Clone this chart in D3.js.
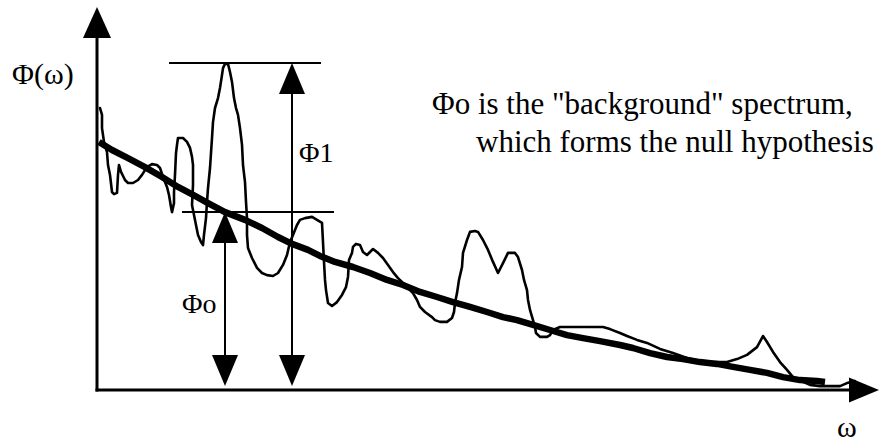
<!DOCTYPE html>
<html>
<head>
<meta charset="utf-8">
<script src="https://cdn.jsdelivr.net/npm/d3@7"></script>
<style>
  html, body { margin: 0; padding: 0; background: #fff; }
  svg { display: block; }
  text { font-family: "Liberation Serif", "Times New Roman", serif; fill: #000; }
</style>
</head>
<body>
<svg id="chart" width="881" height="443"></svg>
<script>
// ---- Data ----
// Observed spectrum Φ(ω)
const specOmega = [1.5,2.5,2.5,3.5,5,5.5,6.5,7.5,8.5,10,10.5,11,12,14,15.5,18,20.5,22.5,24,26,27.5,30,31.5,33,35,36,37,37.5,38.5,38.5,39,39.5,40,40.5,43,45,46.5,47.5,48,48,47.5,48.5,49.5,50.5,52,53,53.5,54.5,55,55.5,56.5,57.5,58,59,60.5,61.5,62.5,63,64,65.5,66.5,67.5,68.5,69.5,70.5,71.5,72.5,73,74,74.5,75,75,75.5,77.5,80,82.5,85,88,90.5,93,95,96.5,98,100,101.5,104,107.5,110,112.5,113,113.5,114,114.5,115.5,117.5,120,122.5,124.5,125.5,126,127.5,128,129.5,131.5,133,135,136.5,138,140.5,143,145.5,148,150.5,153,155.5,158,160,161.5,164,167.5,169,171.5,175,177.5,178.5,179,180,181,182.5,183,185,186.5,189,190.5,193,195.5,198,200.5,203,205.5,209,210.5,212.5,213.5,215,215.5,216.5,218,219,219.5,221.5,225,226.5,228,231.5,235,243,253,256.5,261.5,265,270,275,281.5,288,295,301.5,308,315,320,325,330,333,335,338,341.5,345,348,353,356.5,361.5,368,371.5,375,379];
const specPhi   = [94,91.7,87.3,82.7,79.3,75,71.7,66,65.3,65.7,71.7,75,72.7,70,69,69,70,71.7,73.3,74.7,75.3,75,74,71,67.7,65,61,59.3,62.3,66,71.7,79,81.7,84,84,82.7,80.7,77.7,75,68.3,61.7,58.3,55,51.7,49.3,48.3,51.7,57.3,62.7,67.3,74,84,89.3,94,97.3,100.7,105,107.3,108.7,108.7,106,102.7,97.3,94,91.7,87.3,81.7,75,69.3,62.7,57.3,51.7,47.3,44,40.7,39,38.3,38,39,41.7,45,49.3,51.7,55,56.7,57.3,57.7,56.7,55.7,49.3,42.7,36.7,33.3,29,28,29.3,31.7,34.3,37.7,43.3,45.7,47.7,48.7,48.3,46,45,46,47,45.7,44,41.7,39.3,37.3,35.7,34,32.3,30,27.7,26,24.3,23.3,22.7,22.7,24,26,29,32.3,36.7,41,45.7,50,52.7,53,52.7,50,46.7,42.7,39,42.3,45.7,45.7,44.3,40,36.7,33.3,30,26.7,23.3,21,19,17.7,17.7,18.3,20,21,21,21,21,20.3,19,18,16.7,15.7,13.7,12.3,10.7,9.7,9.3,9.3,10.3,11.7,14.3,18,16,12.7,9.3,6.7,4.3,2.7,1.7,1.3,1.3,1.3,2.3,3];

// "Background" spectrum Φo(ω) (null hypothesis)
const bgOmega = [1,7.5,15.5,24,32.5,40.5,49,55.5,64,74,82.5,90.5,97.5,105.5,111.5,119,128,136.5,145,153,161.5,170,178,186.5,195,203,210,218,226.5,235,243,251.5,261.5,268,276.5,285,293,301.5,310,318,326.5,335,343,351.5,360,364];
const bgPhi   = [82.7,80,77.3,74.3,71,67.7,64.7,62.3,59.3,56.7,54,51,48.7,46.7,44.7,42.7,41,39,36.7,35,32.7,31,29.3,27.7,26,24.3,23.3,21.7,20,18.3,17.3,16.3,15,14,12.3,11,10.3,9.3,8.7,7.7,6.7,5.7,4.3,3.3,3,2.7];

// Annotation levels
const levelLabels = ["Φo", "Φ1"];
const levelValues = [59.3, 109];           // Φ value where each arrow ends
const levelOmega  = [64, 97.5];            // ω position of each vertical arrow
const levelLineFrom = [42.5, 36];          // horizontal guide extents (ω)
const levelLineTo   = [118.5, 112];

const axisLabelY = "Φ(ω)";
const axisLabelX = "ω";
const noteLines = ["Φo is the \"background\" spectrum,", "which forms the null hypothesis"];

// ---- Scales ----
const xDomainMax = 391, yDomainMax = 128;
const x = d3.scaleLinear().domain([0, xDomainMax]).range([97, 879]);
const y = d3.scaleLinear().domain([0, yDomainMax]).range([390, 6]);

const svg = d3.select("#chart");

// ---- Axes with arrowheads ----
const ax = svg.append("g");
ax.append("line").attr("x1", x(0)).attr("y1", y(0) + 1.5).attr("x2", x(0)).attr("y2", y(yDomainMax) + 20)
  .attr("stroke", "#000").attr("stroke-width", 3);
ax.append("line").attr("x1", x(0) - 1.5).attr("y1", y(0)).attr("x2", x(xDomainMax) - 20).attr("y2", y(0))
  .attr("stroke", "#000").attr("stroke-width", 3);
// y-axis arrowhead
{
  const tx = x(0), ty = y(yDomainMax) + 1;
  ax.append("path").attr("d", `M${tx},${ty} L${tx - 14},${ty + 31} L${tx + 14},${ty + 31} Z`).attr("fill", "#000");
}

// ---- Spectrum lines ----
const line = d3.line().x(d => x(d[0])).y(d => y(d[1])).curve(d3.curveLinear);
const spec = specOmega.map((w, i) => [w, specPhi[i]]);
const bg = bgOmega.map((w, i) => [w, bgPhi[i]]);

svg.append("path").attr("d", line(spec)).attr("fill", "none").attr("stroke", "#000")
  .attr("stroke-width", 2.6).attr("stroke-linejoin", "round").attr("stroke-linecap", "round");
svg.append("path").attr("d", line(bg)).attr("fill", "none").attr("stroke", "#000")
  .attr("stroke-width", 6.5).attr("stroke-linejoin", "round").attr("stroke-linecap", "butt");

// x-axis arrowhead (drawn over the spectrum end)
{
  const tx = x(xDomainMax), ty = y(0);
  ax.raise();
  svg.append("path").attr("d", `M${tx},${ty} L${tx - 30},${ty - 12.5} L${tx - 30},${ty + 12.5} Z`).attr("fill", "#000");
}

// ---- Annotations ----
const ann = svg.append("g");
levelValues.forEach((v, i) => {
  ann.append("line").attr("x1", x(levelLineFrom[i])).attr("x2", x(levelLineTo[i]))
    .attr("y1", y(v)).attr("y2", y(v)).attr("stroke", "#000").attr("stroke-width", 2);
  const ax0 = x(levelOmega[i]);
  const top = y(v), bot = y(0) - 4;
  ann.append("line").attr("x1", ax0).attr("x2", ax0).attr("y1", top + 20).attr("y2", bot - 20)
    .attr("stroke", "#000").attr("stroke-width", 2);
  ann.append("path").attr("d", `M${ax0},${top} L${ax0 - 13},${top + 31} L${ax0 + 13},${top + 31} Z`).attr("fill", "#000");
  ann.append("path").attr("d", `M${ax0},${bot} L${ax0 - 13},${bot - 31} L${ax0 + 13},${bot - 31} Z`).attr("fill", "#000");
});

// ---- Text ----
const fs = 30;
svg.append("text").attr("x", 12).attr("y", 84).attr("font-size", fs).text(axisLabelY);
svg.append("text").attr("x", 837).attr("y", 437).attr("font-size", fs).text(axisLabelX);
svg.append("text").attr("x", 299).attr("y", 162).attr("font-size", 28).text(levelLabels[1]);
svg.append("text").attr("x", 182).attr("y", 313).attr("font-size", 28).text(levelLabels[0]);
svg.append("text").attr("x", 432).attr("y", 114).attr("font-size", 31).text(noteLines[0]);
svg.append("text").attr("x", 476).attr("y", 152).attr("font-size", 31).text(noteLines[1]);
</script>
</body>
</html>
